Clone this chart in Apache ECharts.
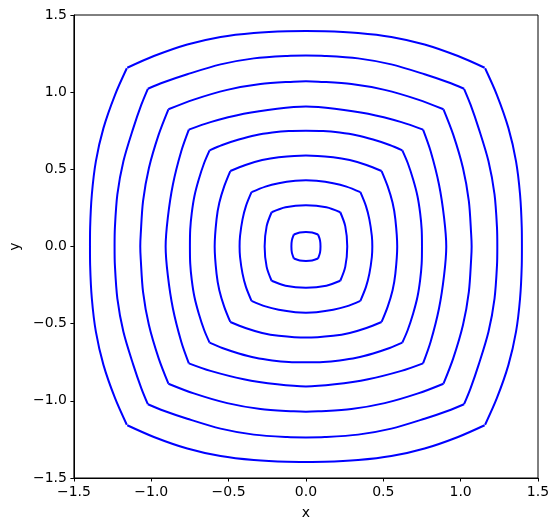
<!DOCTYPE html>
<html>
<head>
<meta charset="utf-8">
<script src="https://cdn.jsdelivr.net/npm/echarts@6/dist/echarts.min.js"></script>
<style>
  html, body { margin: 0; padding: 0; background: #fff; }
  #chart { width: 557px; height: 530px; }
</style>
</head>
<body>
<div id="chart"></div>
<script>
  // top arc of each contour, from the top (x = 0) out to the corner
  var arc1 = [[0, 1.396], [0.121, 1.395], [0.337, 1.384], [0.552, 1.358], [0.767, 1.309], [0.983, 1.234], [1.155, 1.158]];
  var arc2 = [[0, 1.237], [0.121, 1.235], [0.337, 1.219], [0.552, 1.180], [0.767, 1.116], [0.919, 1.064], [1.022, 1.022]];
  var arc3 = [[0, 1.071], [0.079, 1.068], [0.294, 1.053], [0.509, 1.015], [0.725, 0.952], [0.889, 0.889]];
  var arc4 = [[0, 0.907], [0.186, 0.893], [0.402, 0.860], [0.617, 0.806], [0.757, 0.757]];
  var arc5 = [[0, 0.750], [0.111, 0.748], [0.218, 0.738], [0.326, 0.721], [0.434, 0.693], [0.541, 0.658], [0.623, 0.623]];
  var arc6 = [[0, 0.590], [0.176, 0.578], [0.283, 0.560], [0.391, 0.528], [0.489, 0.489]];
  var arc7 = [[0, 0.429], [0.068, 0.426], [0.176, 0.410], [0.262, 0.388], [0.352, 0.352]];
  var arc8 = [[0, 0.267], [0.132, 0.254], [0.222, 0.222]];
  var arc9 = [[0, 0.094], [0.040, 0.091], [0.078, 0.078]];
  var arcs = [arc1, arc2, arc3, arc4, arc5, arc6, arc7, arc8, arc9];

  var xTicks = [-1.5, -1.0, -0.5, 0.0, 0.5, 1.0, 1.5];
  var yTicks = [-1.5, -1.0, -0.5, 0.0, 0.5, 1.0, 1.5];

  // each contour = 4 arcs between its corners, mirrored from the octant (picture is symmetric)
  function sides(arc) {
    var half = arc.slice(1).reverse().map(function (p) { return [-p[0], p[1]]; }).concat(arc);
    return [
      half.map(function (p) { return [p[0], p[1]]; }),    // top
      half.map(function (p) { return [p[0], -p[1]]; }),   // bottom
      half.map(function (p) { return [p[1], p[0]]; }),    // right
      half.map(function (p) { return [-p[1], p[0]]; })    // left
    ];
  }

  function tickText(v) {
    return v.toFixed(1).replace('-', '\u2212');
  }

  var font = 'DejaVu Sans';

  var axisCommon = {
    type: 'value',
    min: -1.5,
    max: 1.5,
    interval: 0.5,
    splitLine: { show: false },
    axisLine: { show: true, onZero: false, lineStyle: { color: '#000', width: 1 } },
    axisTick: { show: true, inside: false, length: 3.5, lineStyle: { color: '#000', width: 1 } },
    nameLocation: 'middle',
    nameTextStyle: { color: '#000', fontFamily: font, fontSize: 14 }
  };

  var series = [];
  arcs.forEach(function (a) {
    sides(a).forEach(function (s) {
      series.push({
        type: 'line',
        data: s,
        symbol: 'none',
        smooth: 0.3,
        lineStyle: { color: '#0000ff', width: 2 },
        emphasis: { disabled: true }
      });
    });
  });

  var option = {
    animation: false,
    backgroundColor: '#fff',
    grid: {
      left: 72, right: 19, top: 15, bottom: 52,
      show: true, borderColor: '#000', borderWidth: 1, backgroundColor: 'transparent'
    },
    xAxis: Object.assign({}, axisCommon, {
      name: 'x',
      nameGap: 28,
      axisLabel: {
        color: '#000', fontFamily: font, fontSize: 14, margin: 7,
        formatter: function (v) { return xTicks.indexOf(v) >= 0 ? tickText(v) : ''; }
      }
    }),
    yAxis: Object.assign({}, axisCommon, {
      name: 'y',
      nameGap: 50,
      axisLabel: {
        color: '#000', fontFamily: font, fontSize: 14, margin: 7,
        formatter: function (v) { return yTicks.indexOf(v) >= 0 ? tickText(v) : ''; }
      }
    }),
    series: series
  };

  var myChart = echarts.init(document.getElementById('chart'));
  myChart.setOption(option);
</script>
</body>
</html>
